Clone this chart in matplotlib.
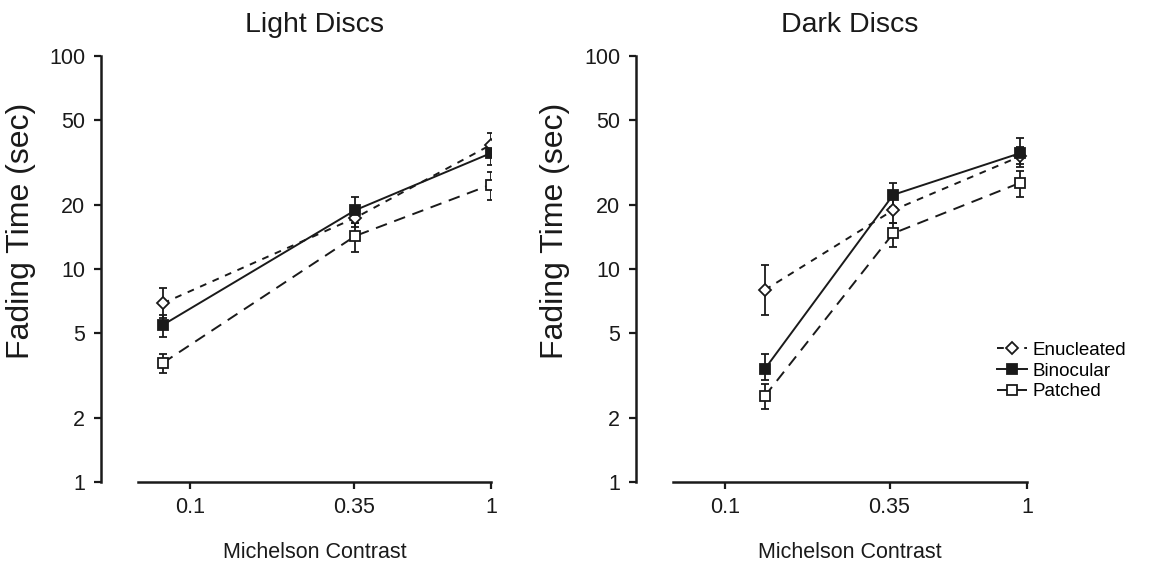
import numpy as np
import matplotlib
matplotlib.use("Agg")
import matplotlib.pyplot as plt
from matplotlib.ticker import FixedLocator, NullLocator

plt.rcParams['font.family'] = ['Liberation Sans', 'DejaVu Sans']

# --- data (log-log axes) ---
ticks_y = [1, 2, 5, 10, 20, 50, 100]
ticks_x = [0.1, 0.35, 1]
tick_x_labels = ['0.1', '0.35', '1']

series = ['Enucleated', 'Binocular', 'Patched']

# Light Discs
light_x = [0.081, 0.354, 1.0]
light_enuc = [6.9, 17.4, 38.3]
light_enuc_lo = [5.9, 15.8, 34.0]
light_enuc_hi = [8.1, 19.2, 43.5]
light_bino = [5.46, 18.9, 35.0]
light_bino_lo = [4.8, 16.5, 30.7]
light_bino_hi = [6.1, 21.8, 39.0]
light_patch = [3.62, 14.3, 24.9]
light_patch_lo = [3.25, 12.0, 21.1]
light_patch_hi = [4.0, 16.5, 28.6]

# Dark Discs
dark_x = [0.135, 0.36, 0.95]
dark_enuc = [7.97, 18.9, 33.8]
dark_enuc_lo = [6.08, 16.5, 30.0]
dark_enuc_hi = [10.4, 21.5, 37.5]
dark_bino = [3.39, 22.3, 35.0]
dark_bino_lo = [3.0, 19.5, 31.0]
dark_bino_hi = [4.0, 25.4, 41.0]
dark_patch = [2.53, 14.7, 25.4]
dark_patch_lo = [2.2, 12.7, 21.8]
dark_patch_hi = [2.9, 16.5, 29.0]

ink = '#1a1a1a'
styles = {
    'Enucleated': dict(marker='D', ms=6.5, mfc='white', ls=(0, (3.5, 3.5))),
    'Binocular': dict(marker='s', ms=7.5, mfc=ink, ls='-'),
    'Patched': dict(marker='s', ms=7.5, mfc='white', ls=(0, (6, 4))),
}


def draw_series(ax, x, y, lo, hi, name):
    st = styles[name]
    y = np.array(y)
    yerr = [y - np.array(lo), np.array(hi) - y]
    cont = ax.errorbar(x, y, yerr=yerr, color=ink, lw=1.4, ls=st['ls'],
                       marker=st['marker'], ms=st['ms'], mfc=st['mfc'], mec=ink,
                       mew=1.3, elinewidth=1.3, capsize=3, capthick=1.3,
                       zorder=3)
    # plain line (no error bar) for the legend key
    return cont[0]


def style_axes(ax, title):
    ax.set_xscale('log')
    ax.set_yscale('log')
    ax.set_xlim(0.067, 1.0)
    ax.set_ylim(1, 100)
    ax.spines['top'].set_visible(False)
    ax.spines['right'].set_visible(False)
    ax.spines['left'].set_position(('outward', 27))
    for s in ('left', 'bottom'):
        ax.spines[s].set_linewidth(1.8)
        ax.spines[s].set_color(ink)
    ax.yaxis.set_major_locator(FixedLocator(ticks_y))
    ax.yaxis.set_minor_locator(NullLocator())
    ax.set_yticklabels([str(t) for t in ticks_y])
    ax.xaxis.set_major_locator(FixedLocator(ticks_x))
    ax.xaxis.set_minor_locator(NullLocator())
    ax.set_xticklabels(tick_x_labels)
    ax.tick_params(axis='both', labelsize=15.5, width=1.6, length=5,
                   color=ink, labelcolor=ink, pad=6)
    ax.set_title(title, fontsize=20.5, pad=17, color=ink)
    ax.set_xlabel('Michelson Contrast', fontsize=15.5, labelpad=17, color=ink)
    ax.set_ylabel('Fading Time (sec)', fontsize=23, color=ink)
    # label sits a bit above the axes centre in the reference
    ax.yaxis.set_label_coords(-0.29, 0.59)


fig = plt.figure(figsize=(11.58, 5.78), dpi=100)
ax1 = fig.add_axes([138 / 1158, 1 - 482 / 578, 353 / 1158, 426 / 578])
ax2 = fig.add_axes([673 / 1158, 1 - 482 / 578, 354 / 1158, 426 / 578])

draw_series(ax1, light_x, light_patch, light_patch_lo, light_patch_hi, 'Patched')
draw_series(ax1, light_x, light_enuc, light_enuc_lo, light_enuc_hi, 'Enucleated')
draw_series(ax1, light_x, light_bino, light_bino_lo, light_bino_hi, 'Binocular')

keys = {}
keys['Patched'] = draw_series(ax2, dark_x, dark_patch, dark_patch_lo, dark_patch_hi, 'Patched')
keys['Enucleated'] = draw_series(ax2, dark_x, dark_enuc, dark_enuc_lo, dark_enuc_hi, 'Enucleated')
keys['Binocular'] = draw_series(ax2, dark_x, dark_bino, dark_bino_lo, dark_bino_hi, 'Binocular')

style_axes(ax1, 'Light Discs')
style_axes(ax2, 'Dark Discs')

fig.legend([keys[n] for n in series], series,
           loc='center left', bbox_to_anchor=(988 / 1158, 1 - 371 / 578),
           frameon=False, fontsize=13.5, handlelength=1.6, handletextpad=0.25,
           labelspacing=0.2, borderpad=0)

fig.savefig('out.png', dpi=100)
